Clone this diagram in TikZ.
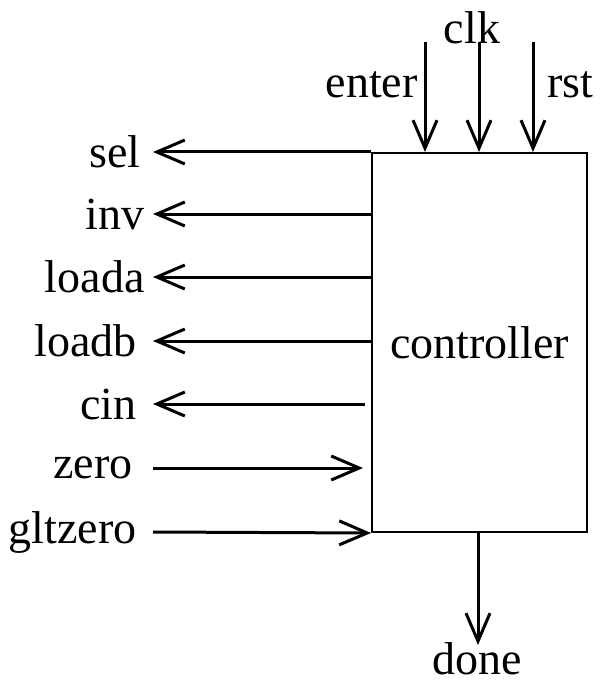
\documentclass[tikz,border=0pt]{standalone}
\usepackage{fontspec}
\setmainfont{Liberation Serif}
\usetikzlibrary{arrows.meta,positioning}
\tikzset{
  sig/.style={line width=1.5pt,-{Straight Barb[length=14pt,width=12pt,line width=1.5pt]}},
  lbl/.style={font=\fontsize{23}{28}\selectfont,inner sep=0pt},
}

\begin{document}
\begin{tikzpicture}[x=0.5pt,y=-0.5pt]
    \useasboundingbox (0,0) rectangle (600,684);
    % the block
    \node[lbl,draw,line width=1pt,minimum width=107.5pt,minimum height=189.5pt] (ctrl) at (479.5,342.5){controller};
    % outputs on the left
    \coordinate (selE) at (153,152);
    \coordinate (invE) at (153,214);
    \coordinate (loadaE) at (153,277);
    \coordinate (loadbE) at (153,341);
    \coordinate (cinE) at (153,404);
    \coordinate (cinS) at (365,404);
    \draw[sig] (ctrl.west |- selE) -- (selE);
    \draw[sig] (ctrl.west |- invE) -- (invE);
    \draw[sig] (ctrl.west |- loadaE) -- (loadaE);
    \draw[sig] (ctrl.west |- loadbE) -- (loadbE);
    \draw[sig] (cinS) -- (cinE);
    \node[lbl,left=6pt of selE] (sel){sel};
    \node[lbl,left=4pt of invE] (inv){inv};
    \node[lbl,left=4pt of loadaE] (loada){loada};
    \node[lbl,left=8pt of loadbE] (loadb){loadb};
    \node[lbl,left=8pt of cinE] (cin){cin};
    % inputs on the left
    \coordinate (zeroS) at (153,468);
    \coordinate (zeroE) at (363,468);
    \coordinate (gltS) at (153,532);
    \draw[sig] (zeroS) -- (zeroE);
    \draw[sig] (gltS) -- (ctrl.south west);
    \node[lbl,left=10pt of zeroS] (zero){zero};
    \node[lbl,left=8pt of gltS] (gltzero){gltzero};
    % inputs on top
    \coordinate (enterS) at (425,42);
    \coordinate (clkS) at (479,42);
    \coordinate (rstS) at (533,42);
    \draw[sig] (enterS) -- (ctrl.north -| enterS);
    \draw[sig] (clkS) -- (ctrl.north -| clkS);
    \draw[sig] (rstS) -- (ctrl.north -| rstS);
    \node[lbl,anchor=east] (enter) at (418,85){enter};
    \node[lbl] (clk) at (472,28){clk};
    \node[lbl,anchor=west] (rst) at (547,85){rst};
    % output at the bottom
    \coordinate (doneE) at (478,645);
    \draw[sig] (ctrl.south -| doneE) -- (doneE);
    \node[lbl] (done) at (477,659){done};
\end{tikzpicture}
\end{document}
